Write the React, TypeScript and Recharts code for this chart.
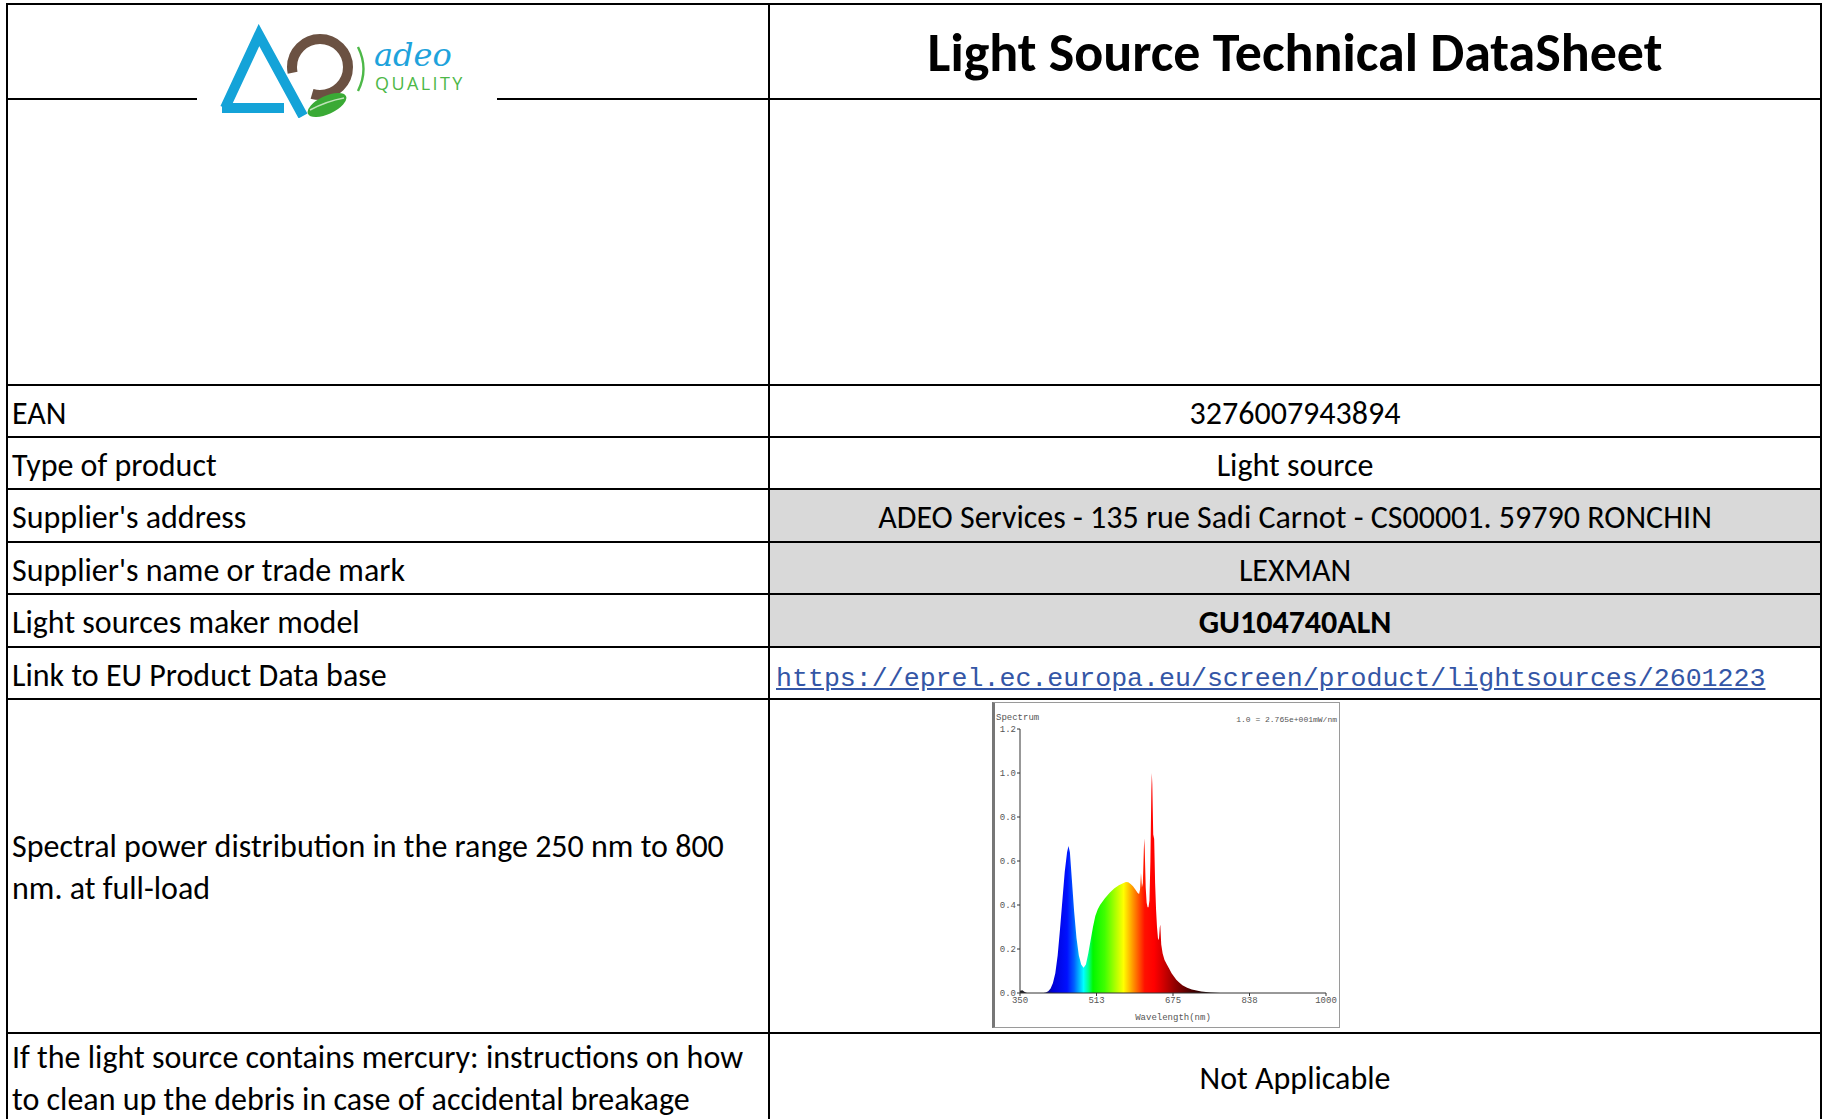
import React from "react";
import { AreaChart, Area, XAxis, YAxis, Label } from "recharts";

// table contents
const rowLabels = [
  "EAN",
  "Type of product",
  "Supplier's address",
  "Supplier's name or trade mark",
  "Light sources maker model",
  "Link to EU Product Data base",
];
const rowValues = [
  "3276007943894",
  "Light source",
  "ADEO Services - 135 rue Sadi Carnot - CS00001. 59790 RONCHIN",
  "LEXMAN",
  "GU104740ALN",
  "https://eprel.ec.europa.eu/screen/product/lightsources/2601223",
];
const spectralLabel = ["Spectral power distribution in the range 250 nm to 800", "nm. at full-load"];
const mercuryLabel = ["If the light source contains mercury: instructions on how", "to clean up the debris in case of accidental breakage"];
const mercuryValue = "Not Applicable";

// spectrum (wavelength in nm, relative value)
const wavelengths = [
  350, 355, 360, 365, 380, 400, 405, 410, 415, 420, 425, 430, 435, 440, 445, 450, 453, 456, 460, 465,
  470, 475, 480, 485, 490, 495, 500, 505, 510, 515, 520, 525, 530, 540, 550, 560, 570, 575, 580, 585,
  590, 595, 600, 603, 605, 607, 609, 611, 613, 614, 615, 617, 619, 621, 623, 625, 627, 629, 630, 631,
  633, 635, 637, 639, 641, 643, 645, 647, 648, 650, 653, 657, 662, 667, 672, 677, 682, 687, 695, 705,
  715, 725, 735, 745, 755, 765, 775, 800, 850, 900, 950, 1000,
];
const spectrum = [
  0.01, 0.012, 0.005, 0, 0, 0, 0.002, 0.008, 0.02, 0.045, 0.09, 0.17, 0.29, 0.42, 0.55, 0.64, 0.668, 0.64, 0.52, 0.37,
  0.25, 0.17, 0.13, 0.115, 0.13, 0.18, 0.24, 0.3, 0.35, 0.38, 0.4, 0.415, 0.43, 0.455, 0.475, 0.49, 0.5, 0.505, 0.503, 0.495,
  0.485, 0.47, 0.455, 0.45, 0.47, 0.545, 0.48, 0.5, 0.65, 0.703, 0.65, 0.48, 0.41, 0.39, 0.39, 0.42, 0.6, 0.92, 1.0, 0.95,
  0.72, 0.7, 0.5, 0.38, 0.3, 0.25, 0.24, 0.3, 0.31, 0.22, 0.18, 0.15, 0.13, 0.11, 0.09, 0.075, 0.06, 0.05, 0.035, 0.024,
  0.016, 0.011, 0.007, 0.004, 0.002, 0.001, 0, 0, 0, 0, 0, 0,
];
const xTicks = [350, 512.5, 675, 837.5, 1000];
const xTickLabels = ["350", "513", "675", "838", "1000"];
const yTicks = [0, 0.2, 0.4, 0.6, 0.8, 1.0, 1.2];
const yTickLabels = ["0.0", "0.2", "0.4", "0.6", "0.8", "1.0", "1.2"];

// colour of the fill along the wavelength axis
const colorStops: [number, string][] = [
  [350, "#202020"], [400, "#10105a"], [420, "#0000d8"], [450, "#0010ff"], [465, "#0060ff"],
  [475, "#00b0ff"], [485, "#00ffff"], [495, "#00ff90"], [505, "#00f800"], [530, "#40ff00"],
  [550, "#a0ff00"], [570, "#ffff00"], [585, "#ffb000"], [600, "#ff6000"], [615, "#ff1000"],
  [635, "#ff0000"], [655, "#d00000"], [680, "#900000"], [710, "#500000"], [740, "#200000"], [780, "#000000"],
  [1000, "#000000"],
];

const data = wavelengths.map((nm, i) => ({ nm, v: spectrum[i] }));

const FONT = "Carlito, Lato, 'Open Sans', sans-serif";
const LINE = "#000";
const TICK_FONT = "'Liberation Mono', monospace";

function HLine({ y, x1, x2 }: { y: number; x1: number; x2: number }) {
  return <div style={{ position: "absolute", left: x1, top: y - 1, width: x2 - x1, height: 2, background: LINE }} />;
}
function VLine({ x, y1, y2 }: { x: number; y1: number; y2: number }) {
  return <div style={{ position: "absolute", left: x - 1, top: y1, width: 2, height: y2 - y1, background: LINE }} />;
}

function Logo() {
  return (
    <svg width={300} height={94} style={{ position: "absolute", left: 197, top: 24, background: "#fff" }}>
      <g transform="translate(-197,-24)">
        <path d="M225,108 L259,35 L303,116" fill="none" stroke="#14a3d8" strokeWidth={10} strokeLinejoin="miter" />
        <path d="M222,108 L284,108" stroke="#14a3d8" strokeWidth={10} />
        <circle cx={320} cy={67} r={28} fill="none" stroke="#6b5142" strokeWidth={10} strokeDasharray="52 30 94 0" />
        <ellipse cx={327} cy={105} rx={21} ry={9} transform="rotate(-25 327 105)" fill="#3aaa35" />
        <path d="M310,110 Q327,101 344,98" stroke="#bfe3b8" strokeWidth={1.5} fill="none" />
        <path d="M358,47 Q369,69 358,91" stroke="#4db848" strokeWidth={2.4} fill="none" />
        <text x={374} y={66} fontFamily="'DejaVu Serif', serif" fontStyle="italic" fontSize={32} fill="#1ea3dc">adeo</text>
        <text x={375} y={90} fontFamily="'Open Sans', sans-serif" fontSize={18} letterSpacing={2.4} fill="#4db848">QUALITY</text>
      </g>
    </svg>
  );
}

function Spectrum() {
  return (
    <div style={{ position: "absolute", left: 992, top: 702, width: 344, height: 324, border: "1px solid #9a9a9a", borderLeft: "3px solid #777", background: "#fff" }}>
      <AreaChart width={344} height={324} data={data} margin={{ top: 26, right: 13, bottom: 4, left: 0 }}>
        <defs>
          <linearGradient id="spec" x1="0" y1="0" x2="1" y2="0">
            {colorStops.map(([nm, c]) => (
              <stop key={nm} offset={(nm - 350) / 650} stopColor={c} />
            ))}
          </linearGradient>
        </defs>
        <XAxis
          dataKey="nm"
          type="number"
          domain={[350, 1000]}
          ticks={xTicks}
          interval={0}
          tickFormatter={(v, i) => xTickLabels[i]}
          height={30}
          tickSize={3}
          tickMargin={1}
          stroke="#333"
          tick={{ fontSize: 9, fill: "#555", fontFamily: TICK_FONT }}
        >
          <Label value="Wavelength(nm)" position="insideBottom" offset={3} style={{ fontSize: 9, fill: "#555", fontFamily: TICK_FONT }} />
        </XAxis>
        <YAxis
          type="number"
          domain={[0, 1.2]}
          ticks={yTicks}
          interval={0}
          width={25}
          tickSize={3}
          tickMargin={1}
          stroke="#333"
          tickFormatter={(v, i) => yTickLabels[i]}
          tick={{ fontSize: 9, fill: "#555", fontFamily: TICK_FONT }}
        />
        <Area type="linear" dataKey="v" stroke="none" fill="url(#spec)" fillOpacity={1} isAnimationActive={false} dot={false} activeDot={false} />
      </AreaChart>
      <div style={{ position: "absolute", left: 1, top: 10, fontSize: 9, color: "#555", fontFamily: TICK_FONT }}>Spectrum</div>
      <div style={{ position: "absolute", right: 2, top: 12, fontSize: 8, color: "#555", fontFamily: TICK_FONT }}>1.0 = 2.765e+001mW/nm</div>
    </div>
  );
}

export default function App() {
  const L = 7, M = 769, R = 1821;
  const rowTops = [385, 437, 489, 542, 594, 647, 699];
  const textStyle: React.CSSProperties = { fontFamily: FONT, fontSize: 32, color: "#000" };
  return (
    <div style={{ position: "absolute", left: 0, top: 0, width: 1827, height: 1119, overflow: "hidden", background: "#fff" }}>
      {/* grey value cells */}
      <div style={{ position: "absolute", left: M, top: 489, width: R - M, height: 647 - 489, background: "#d9d9d9" }} />

      {/* header */}
      <div style={{ position: "absolute", left: M, top: 5, width: R - M, height: 96, display: "flex", alignItems: "center", justifyContent: "center", fontFamily: FONT, fontWeight: 700, fontSize: 54 }}>
        Light Source Technical DataSheet
      </div>

      {rowLabels.map((lab, i) => {
        const top = rowTops[i];
        const h = rowTops[i + 1] - top;
        const isLink = i === 5;
        return (
          <React.Fragment key={lab}>
            <div style={{ ...textStyle, position: "absolute", left: L + 5, top, height: h, display: "flex", alignItems: "center", paddingTop: 2 }}>{lab}</div>
            <div
              style={{
                ...textStyle,
                position: "absolute", left: M, width: R - M, top, height: h, display: "flex", alignItems: "center", justifyContent: "center", paddingTop: 2,
                fontWeight: i === 4 ? 700 : 400,
                ...(isLink ? { fontFamily: "'Liberation Mono', monospace", fontSize: 26.6, color: "#3456a6", textDecoration: "underline", justifyContent: "flex-start", paddingLeft: 7, paddingTop: 6 } : {}),
              }}
            >
              {rowValues[i]}
            </div>
          </React.Fragment>
        );
      })}

      {/* spectral row */}
      <div style={{ ...textStyle, position: "absolute", left: L + 5, top: 701, height: 334, display: "flex", flexDirection: "column", justifyContent: "center", lineHeight: "42px" }}>
        {spectralLabel.map((t) => <div key={t}>{t}</div>)}
      </div>
      <Spectrum />

      {/* mercury row */}
      <div style={{ ...textStyle, position: "absolute", left: L + 5, top: 1037, lineHeight: "42px" }}>
        {mercuryLabel.map((t) => <div key={t}>{t}</div>)}
      </div>
      <div style={{ ...textStyle, position: "absolute", left: M, width: R - M, top: 1058, lineHeight: "42px", textAlign: "center" }}>{mercuryValue}</div>

      {/* grid lines */}
      <HLine y={4} x1={L - 1} x2={R + 1} />
      <HLine y={99} x1={L - 1} x2={M} />
      <HLine y={99} x1={M} x2={R + 1} />
      {[385, 437, 489, 542, 594, 647, 699, 1033].map((y) => (
        <HLine key={y} y={y} x1={L - 1} x2={R + 1} />
      ))}
      <VLine x={L} y1={3} y2={1119} />
      <VLine x={M} y1={3} y2={1119} />
      <VLine x={R} y1={3} y2={1119} />
      <Logo />
    </div>
  );
}
